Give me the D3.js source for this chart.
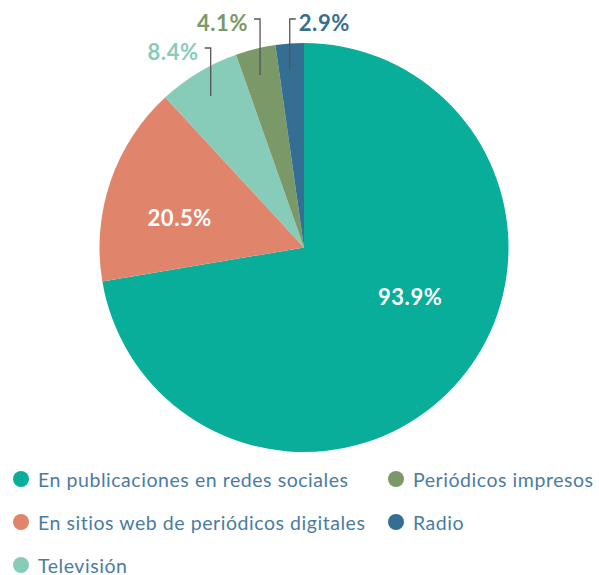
<!DOCTYPE html>
<html>
<head>
<meta charset="utf-8">
<script src="https://cdn.jsdelivr.net/npm/d3@7"></script>
<style>
  html, body { margin: 0; padding: 0; background: #fff; }
  svg { display: block; }
</style>
</head>
<body>
<svg id="chart" width="599" height="575"></svg>
<script>
// Share of respondents by news source (%)
const categories = [
  "En publicaciones en redes sociales",
  "En sitios web de periódicos digitales",
  "Televisión",
  "Periódicos impresos",
  "Radio"
];
const values = [93.9, 20.5, 8.4, 4.1, 2.9];
const labels = ["93.9%", "20.5%", "8.4%", "4.1%", "2.9%"];
const colors = ["#08ae9a", "#e0846c", "#87ccb9", "#7a9868", "#346f93"];

const svg = d3.select("#chart");
const cx = 304, cy = 247.5, R = 204.5;
const fontStack = "Lato, 'Open Sans', 'DejaVu Sans', sans-serif";

const data = categories.map((c, i) => ({ name: c, value: values[i], label: labels[i], color: colors[i], i }));

const pie = d3.pie().value(d => d.value).sort(null);
const arcs = pie(data);
const arc = d3.arc().innerRadius(0).outerRadius(R);

const g = svg.append("g").attr("transform", `translate(${cx},${cy})`);
g.selectAll("path.slice")
  .data(arcs)
  .join("path")
  .attr("class", "slice")
  .attr("d", arc)
  .attr("fill", d => d.data.color);

// polar helper: angle in radians clockwise from 12 o'clock
const polar = (a, r) => [r * Math.sin(a), -r * Math.cos(a)];
const mid = d => (d.startAngle + d.endAngle) / 2;

// Large slices: white labels inside
const inside = { 0: { da: -0.268, r: 117 }, 1: { da: -0.089, r: 128 } };
arcs.filter(d => inside[d.index]).forEach(d => {
  const o = inside[d.index];
  const [x, y] = polar(mid(d) + o.da, o.r);
  g.append("text")
    .attr("x", x).attr("y", y)
    .attr("text-anchor", "middle")
    .attr("dominant-baseline", "central")
    .attr("fill", "#fff")
    .attr("font-family", fontStack)
    .attr("font-weight", 700)
    .attr("font-size", 22)
    .attr("letter-spacing", 0.6)
    .text(d.data.label);
});

// Small slices: leader lines running up to labels above the pie
const outside = {
  2: { y: 48 - cy, side: -1, gap: 6 },
  3: { y: 19 - cy, side: -1, gap: 6 },
  4: { y: 19 - cy, side: 1, gap: 3 }
};
arcs.filter(d => outside[d.index]).forEach(d => {
  const o = outside[d.index];
  const [x0, y0] = polar(mid(d) - 0.01, R * 0.87);
  const x1 = x0 + o.side * 6;
  g.append("path")
    .attr("d", `M${x0},${y0}V${o.y}H${x1}`)
    .attr("fill", "none")
    .attr("stroke", "#555")
    .attr("stroke-width", 1.3);
  g.append("text")
    .attr("x", x1 + o.side * o.gap)
    .attr("y", o.y + 3)
    .attr("text-anchor", o.side < 0 ? "end" : "start")
    .attr("dominant-baseline", "central")
    .attr("fill", d.data.color)
    .attr("font-family", fontStack)
    .attr("font-weight", 700)
    .attr("font-size", 22)
    .attr("letter-spacing", 0.6)
    .text(d.data.label);
});

// Legend: two columns
const legendPos = [
  { x: 21, y: 479 }, { x: 21, y: 522 }, { x: 21, y: 565 },
  { x: 396, y: 479 }, { x: 396, y: 522 }
];
const legend = svg.append("g").attr("class", "legend");
const items = legend.selectAll("g")
  .data(data)
  .join("g")
  .attr("transform", (d, i) => `translate(${legendPos[i].x},${legendPos[i].y})`);
items.append("circle").attr("r", 8).attr("fill", d => d.color);
items.append("text")
  .attr("x", 17)
  .attr("y", 0)
  .attr("dominant-baseline", "central")
  .attr("fill", "#4a7ca2")
  .attr("font-family", fontStack)
  .attr("font-size", 19.5)
  .attr("letter-spacing", 0.55)
  .text(d => d.name);
</script>
</body>
</html>
